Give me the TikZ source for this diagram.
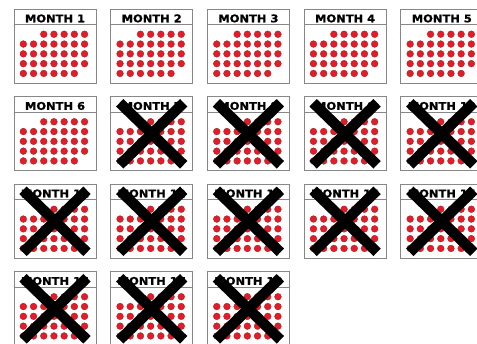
\documentclass[tikz,border=0pt]{standalone}
\usepackage{fontspec}
\newfontfamily\mesfont[FakeStretch=1.08, FakeBold=1.2]{DejaVu Sans}
\definecolor{rojodia}{RGB}{226,28,40}
\definecolor{bordedia}{RGB}{165,25,30}
\definecolor{grisborde}{RGB}{135,135,135}

\providecommand{\mes}[3]{
    \node[caja] (m#1) at (#2,#3) {};
    \draw[separa] ([yshift=-16pt]m#1.north west) -- ([yshift=-16pt]m#1.north east);
    \node[titulo] (t#1) at ([yshift=-9.6pt]m#1.north) {MONTH #1};
    \foreach \j/\a/\b in {0/2/6, 1/0/6, 2/0/6, 3/0/6, 4/0/5}{
        \foreach \k in {\a,...,\b}{
            \filldraw[dia, shift={(m#1.north west)}] (9.8+10.2*\k, 25.4+9.8*\j) circle (3.4);
        }
    }
}
\providecommand{\tachar}[1]{
    \draw[cruz] ([shift={(-32,-31)}]m#1.center) -- ([shift={(32,31)}]m#1.center);
    \draw[cruz] ([shift={(32,-31)}]m#1.center) -- ([shift={(-32,31)}]m#1.center);
}

\begin{document}
\begin{tikzpicture}[
    x=1pt, y=-1pt,
    caja/.style={draw=grisborde, line width=0.9pt, fill=white, minimum width=82pt, minimum height=74pt, inner sep=0pt},
    separa/.style={draw=grisborde, line width=0.9pt},
    titulo/.style={inner sep=0pt, font=\mesfont\bfseries\fontsize{10.6}{12}\selectfont},
    dia/.style={fill=rojodia, draw=bordedia, line width=0.3pt},
    cruz/.style={line width=10.5pt, black}
]

    % MARCO DE LA FIGURA
    \useasboundingbox (0,0) rectangle (477,344);
    \clip (0,0) rectangle (477,344);

    % CALENDARIOS MENSUALES
    \foreach \n in {1,...,18}{
        \pgfmathtruncatemacro{\col}{mod(\n-1,5)}
        \pgfmathtruncatemacro{\fila}{div(\n-1,5)}
        \mes{\n}{55+96.7*\col}{46.3+87.5*\fila}
    }

    % MESES TACHADOS
    \foreach \n in {7,...,18}{
        \tachar{\n}
    }

\end{tikzpicture}
\end{document}
